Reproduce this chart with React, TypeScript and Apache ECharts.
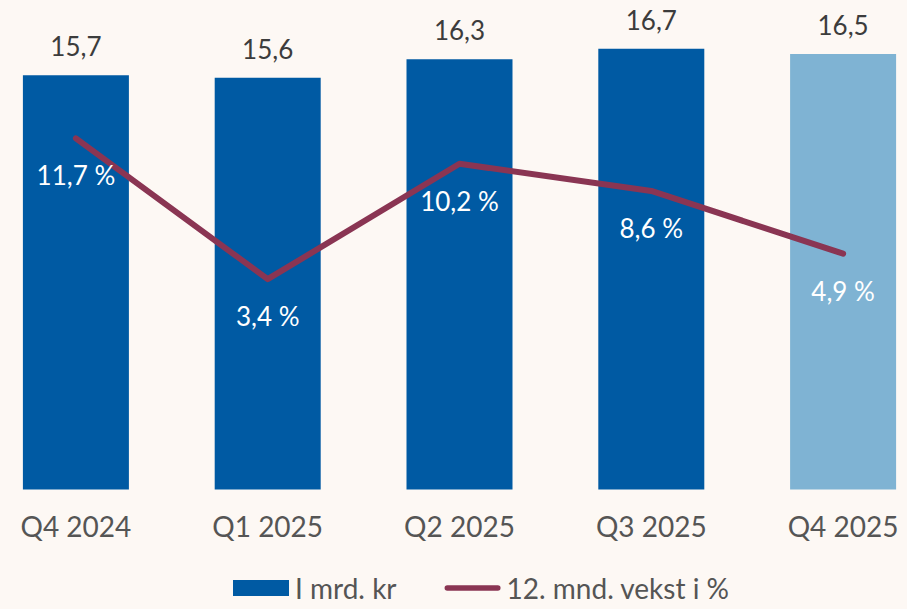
import React, { useEffect, useRef } from "react";
import * as echarts from "echarts";

const categories = ["Q4 2024", "Q1 2025", "Q2 2025", "Q3 2025", "Q4 2025"];
const amountValues = [15.7, 15.6, 16.3, 16.7, 16.5];
const growthValues = [11.7, 3.4, 10.2, 8.6, 4.9];

const DARK_BLUE = "#005aa3";
const LIGHT_BLUE = "#7fb3d3";
const MAROON = "#8a3553";
const FONT = "Lato, 'Open Sans', sans-serif";

const fmt = (v: number) => v.toFixed(1).replace(".", ",");

const LINE_ICON =
  "path://M3,0 L57,0 A3,3 0 0 1 57,6 L3,6 A3,3 0 0 1 3,0 Z";

export default function App() {
  const ref = useRef<HTMLDivElement>(null);
  useEffect(() => {
    if (!ref.current) return;
    const chart = echarts.init(ref.current, null, { renderer: "svg" });
    chart.setOption({
      animation: false,
      backgroundColor: "#fdf8f4",
      textStyle: { fontFamily: FONT },
      grid: { left: 0, right: 0, top: 14.5, bottom: 119.5, containLabel: false },
      legend: {
        top: 574,
        left: 253,
        padding: 0,
        itemWidth: 56,
        itemHeight: 16,
        itemGap: 48,
        textStyle: { fontSize: 28, color: "#555", fontFamily: FONT, padding: [0, 0, 0, 1] },
        data: [
          { name: "I mrd. kr", icon: "rect", itemWidth: 50 },
          { name: "12. mnd. vekst i %", icon: LINE_ICON },
        ],
      },
      xAxis: {
        type: "category",
        data: categories,
        axisLine: { show: false },
        axisTick: { show: false },
        axisLabel: { fontSize: 28, color: "#555", margin: 22, fontFamily: FONT },
      },
      yAxis: [
        { type: "value", min: 0, max: 18, show: false },
        { type: "value", min: -9, max: 19, show: false },
      ],
      series: [
        {
          name: "I mrd. kr",
          type: "bar",
          barWidth: 106,
          itemStyle: { color: DARK_BLUE },
          data: amountValues.map((v, i) => ({
            value: v,
            itemStyle: { color: i === amountValues.length - 1 ? LIGHT_BLUE : DARK_BLUE },
          })),
          label: {
            show: true,
            position: "top",
            distance: 16,
            fontSize: 26,
            color: "#3c3c3c",
            fontFamily: FONT,
            formatter: (p: any) => fmt(p.value),
          },
        },
        {
          name: "12. mnd. vekst i %",
          type: "line",
          yAxisIndex: 1,
          data: growthValues,
          symbol: "circle",
          symbolSize: 0.01,
          showSymbol: true,
          lineStyle: { color: MAROON, width: 6, cap: "round", join: "round" },
          itemStyle: { color: MAROON },
          label: {
            show: true,
            position: "bottom",
            distance: 24,
            fontSize: 26,
            color: "#ffffff",
            fontFamily: FONT,
            formatter: (p: any) => fmt(p.value) + " %",
          },
        },
      ],
    });
    return () => chart.dispose();
  }, []);
  return (
    <div
      ref={ref}
      style={{ width: 959, height: 609, position: "fixed", left: -20, top: 0 }}
    />
  );
}
